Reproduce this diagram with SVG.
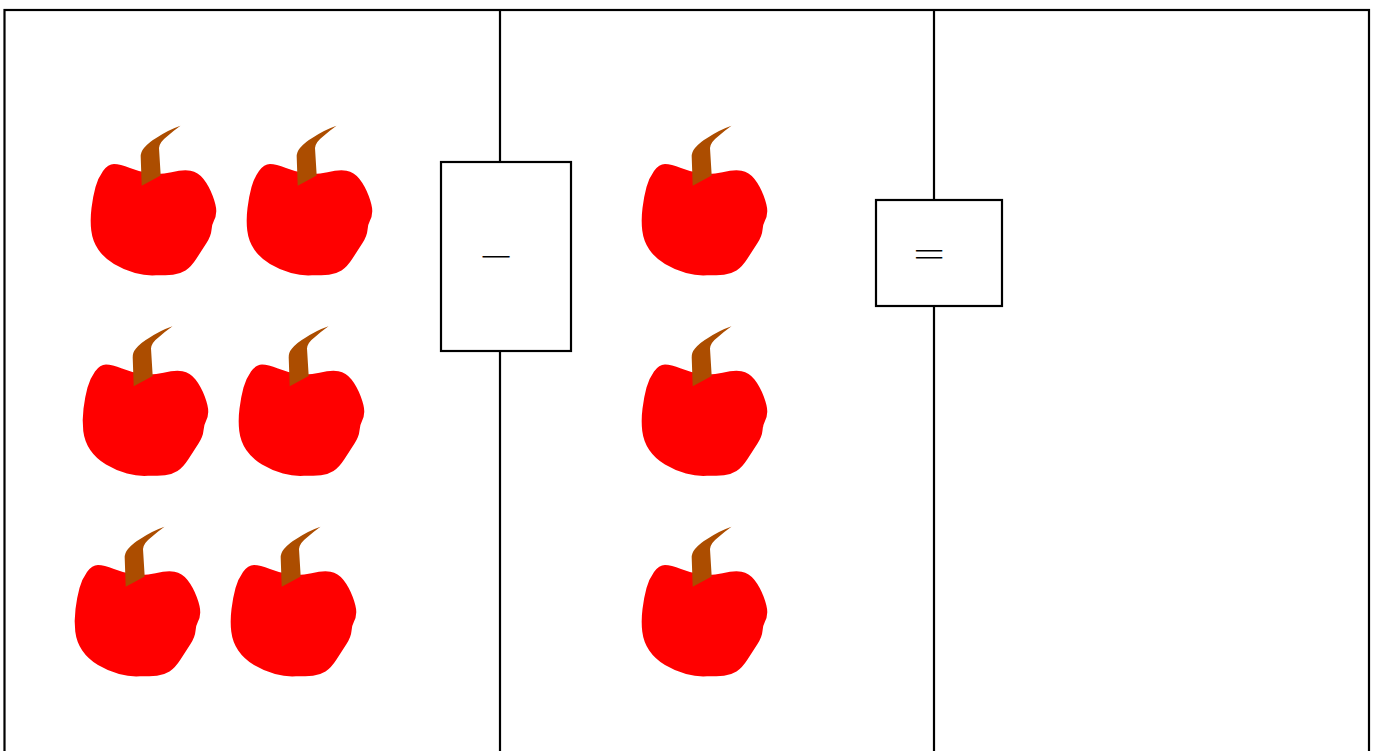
<svg xmlns="http://www.w3.org/2000/svg" width="1373" height="751" viewBox="0 0 1373 751">
<style>
.frame{fill:none;stroke:#000;stroke-width:2.2}
.box{fill:#fff;stroke:#000;stroke-width:2.2}
.op{font-family:"Noto Sans CJK SC","Liberation Serif",serif;fill:#000;font-weight:300}
</style>
<defs>
<g id="apple">
<path fill="#f00" d="M171.5 172.25Q183 169.5 190.5 170.75Q198 172 203.5 179Q209 186 212.75 196Q216.5 206 216.25 211.5Q216 217 214 220.5Q212 224 211.5 230Q211 236 206.5 243Q202 250 196.5 258.5Q191 267 185.5 270.5Q180 274 173 274.65Q166 275.3 156 275.3Q146 276 135 273Q124 270 114 264Q104 258 98.25 249.5Q92.5 241 91.25 230.5Q90 220 91.5 208Q93 196 95.5 187Q98 178 103 171Q108 164 114 164Q120 164 130 168Q140 172 150 173.5Q160 175 171.5 172.25Z"/>
<path fill="#ac4d00" d="M141.7 185.7L140.7 157Q140.5 152 144 148Q149 142 157 137.5Q168 130 180.5 125.7Q173 131 167 136.5Q159.5 142 159 148L160.7 175.5Z"/>
</g>
</defs>
<g id="connectors">
<rect class="frame" x="4.5" y="10" width="1364.5" height="745"/>
<line class="frame" x1="500" y1="10" x2="500" y2="751"/>
<line class="frame" x1="934" y1="10" x2="934" y2="751"/>
</g>
<g id="apples-left">
<use href="#apple"/>
<use href="#apple" x="156"/>
<use href="#apple" x="-8" y="200.5"/>
<use href="#apple" x="148" y="200.5"/>
<use href="#apple" x="-16" y="401"/>
<use href="#apple" x="140" y="401"/>
</g>
<g id="apples-right">
<use href="#apple" x="551"/>
<use href="#apple" x="551" y="200.5"/>
<use href="#apple" x="551" y="401"/>
</g>
<g id="minus">
<rect class="box" x="441" y="162" width="130" height="189"/>
<text class="op" x="481" y="265.5" font-size="34">—</text>
</g>
<g id="equals">
<rect class="box" x="876" y="200" width="126" height="106"/>
<text class="op" transform="translate(911.2 265.3) scale(1.19 1)" font-size="30">＝</text>
</g>
</svg>
